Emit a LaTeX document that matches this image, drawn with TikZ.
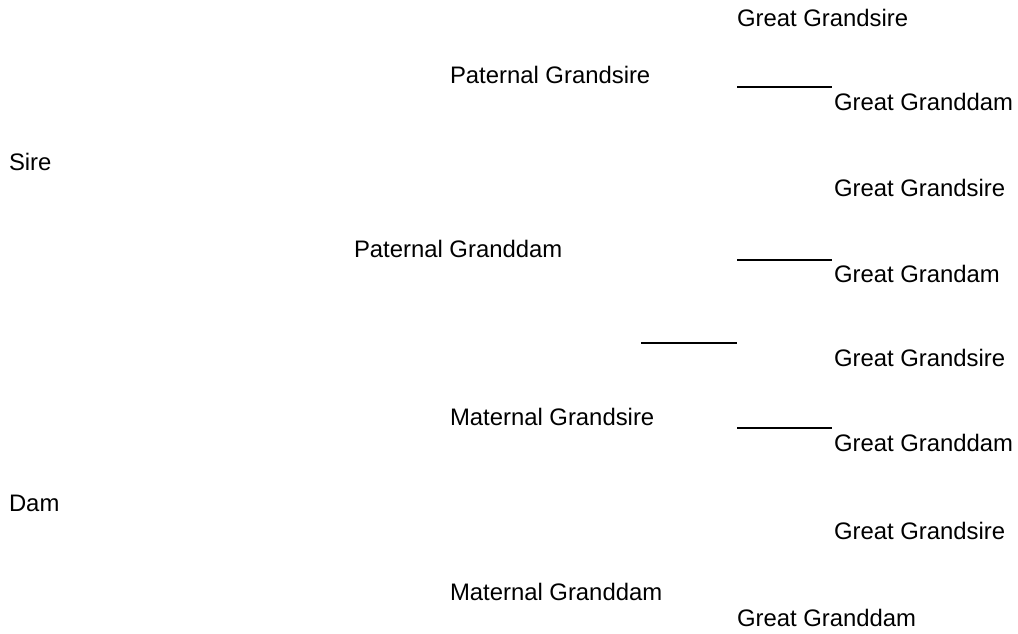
\documentclass[tikz,border=0pt]{standalone}
\usepackage{fontspec}
\setmainfont{Liberation Sans}
\begin{document}
\begin{tikzpicture}[x=0.75pt,y=-0.75pt,
  lbl/.style={anchor=base west,inner sep=0pt,outer sep=0pt,font=\fontsize{17.9pt}{20pt}\selectfont},
  rule/.style={line width=1.5pt}]
\useasboundingbox (0,0) rectangle (1018,633);
\node[lbl] (gg1) at (737,26) {Great Grandsire};
\node[lbl] (pgs) at (450,83) {Paternal Grandsire};
\node[lbl] (gd1) at (834,110) {Great Granddam};
\node[lbl] (sire) at (9,170) {Sire};
\node[lbl] (gg2) at (834,196) {Great Grandsire};
\node[lbl] (pgd) at (354,257) {Paternal Granddam};
\node[lbl] (gd2) at (834,282) {Great Grandam};
\node[lbl] (gg3) at (834,366) {Great Grandsire};
\node[lbl] (mgs) at (450,425) {Maternal Grandsire};
\node[lbl] (gd3) at (834,451) {Great Granddam};
\node[lbl] (dam) at (9,511) {Dam};
\node[lbl] (gg4) at (834,539) {Great Grandsire};
\node[lbl] (mgd) at (450,600) {Maternal Granddam};
\node[lbl] (gd4) at (737,626) {Great Granddam};
\coordinate (l1a) at (737,87); \coordinate (l1b) at (832,87);
\coordinate (l2a) at (737,260); \coordinate (l2b) at (832,260);
\coordinate (l3a) at (641,343); \coordinate (l3b) at (737,343);
\coordinate (l4a) at (737,428); \coordinate (l4b) at (832,428);
\draw[rule] (l1a) -- (l1b);
\draw[rule] (l2a) -- (l2b);
\draw[rule] (l3a) -- (l3b);
\draw[rule] (l4a) -- (l4b);
\end{tikzpicture}
\end{document}
